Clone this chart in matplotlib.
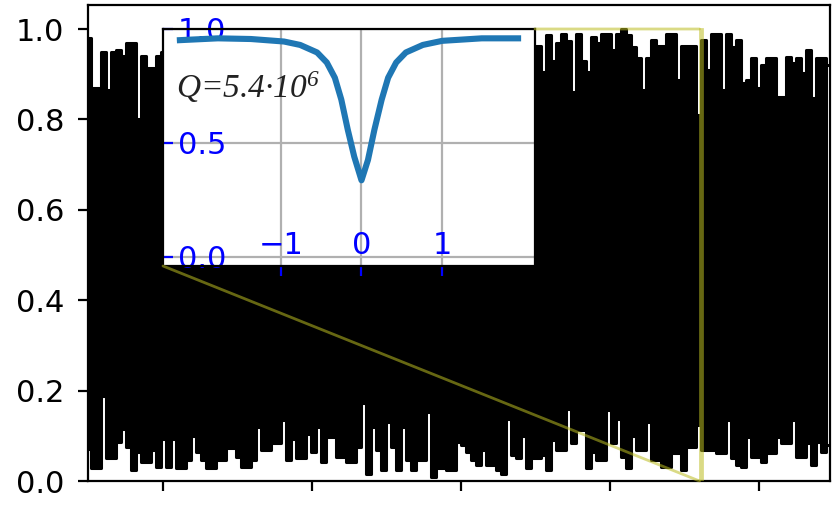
import numpy as np
import matplotlib
matplotlib.use("Agg")
import matplotlib.pyplot as plt
from matplotlib.patches import Rectangle, ConnectionPatch

# ---- data: upper / lower envelope of the dense signal (sampled every ~5 px) ----
upper = [0.98, 0.87, 0.87, 0.95, 0.865, 0.95, 0.954, 0.94, 0.968, 0.968,
         0.80, 0.94, 0.913, 0.913, 0.94,
         0.95, 0.92, 0.97, 0.88, 0.94, 0.96, 0.90, 0.98, 0.93, 0.87,
         0.95, 0.97, 0.91, 0.96, 0.89, 0.94, 0.98, 0.92, 0.95, 0.86,
         0.93, 0.97, 0.95, 0.90, 0.96, 0.93, 0.98, 0.88, 0.94, 0.96,
         0.91, 0.97, 0.95, 0.89, 0.93, 0.98, 0.92, 0.96, 0.87, 0.94,
         0.97, 0.93, 0.95, 0.90, 0.98, 0.94, 0.96, 0.88, 0.93, 0.97,
         0.91, 0.95, 0.98, 0.92, 0.89, 0.96, 0.94, 0.97, 0.90, 0.95,
         0.93, 0.98, 0.91, 0.96, 0.94, 0.88, 0.97, 0.95, 0.92, 0.96,
         0.93, 0.98, 0.90, 0.95,
         0.96, 0.962, 0.905, 0.987, 0.93, 0.968, 0.988, 0.974, 0.86, 0.989,
         0.93, 0.905, 0.983, 0.968, 0.989, 0.989, 0.954, 0.99, 1.0, 0.987,
         0.96, 0.935, 0.865, 0.935, 0.976, 0.962, 0.962, 0.989, 0.989, 0.887,
         0.962, 0.962, 0.962, 0.81, 0.976, 0.909, 0.99, 0.99, 0.865, 0.989,
         0.961, 0.976, 0.88, 0.887, 0.935, 0.87, 0.92, 0.935, 0.935, 0.85,
         0.85, 0.939, 0.924, 0.935, 0.902, 0.954, 0.847, 0.935, 0.935, 0.92]
lower = [0.07, 0.028, 0.028, 0.187, 0.05, 0.05, 0.087, 0.115, 0.076, 0.024,
         0.065, 0.043, 0.043, 0.068, 0.031, 0.094, 0.031, 0.094, 0.028, 0.028,
         0.046, 0.10, 0.065, 0.046, 0.028, 0.028, 0.046, 0.046, 0.072, 0.072,
         0.054, 0.031, 0.031, 0.046, 0.12, 0.068, 0.068, 0.083, 0.083, 0.136,
         0.046, 0.094, 0.05, 0.05, 0.105, 0.065, 0.12, 0.043, 0.098, 0.098,
         0.054, 0.054, 0.043, 0.043, 0.076, 0.172, 0.015, 0.12, 0.068, 0.024,
         0.13, 0.076, 0.024, 0.12, 0.046, 0.024, 0.046, 0.046, 0.152, 0.008,
         0.028, 0.028, 0.024, 0.024, 0.087,
         0.08, 0.065, 0.046, 0.035, 0.068, 0.035, 0.035, 0.024, 0.015, 0.138,
         0.058, 0.05, 0.10, 0.028, 0.05, 0.05, 0.058, 0.024, 0.091, 0.068,
         0.068, 0.16, 0.083, 0.113, 0.113, 0.028, 0.065, 0.046, 0.046, 0.157,
         0.083, 0.138, 0.054, 0.028, 0.10, 0.068, 0.068, 0.13, 0.046, 0.046,
         0.031, 0.031, 0.061, 0.061, 0.024, 0.076, 0.076, 0.125, 0.068, 0.068,
         0.068, 0.061, 0.061, 0.135, 0.05, 0.035, 0.031, 0.098, 0.054, 0.054,
         0.043, 0.061, 0.061, 0.098, 0.083, 0.083, 0.135, 0.054, 0.054, 0.083,
         0.035, 0.087, 0.065, 0.08]

# ---- inset resonance curve ----
detuning = [-2.25, -1.78, -1.37, -0.96, -0.76, -0.55, -0.43, -0.33, -0.25, -0.17,
            -0.09, 0.0, 0.08, 0.16, 0.25, 0.33, 0.43, 0.55, 0.76, 1.0, 1.49, 1.94]
transmission = [0.951, 0.959, 0.956, 0.945, 0.93, 0.897, 0.853, 0.786, 0.69, 0.558,
                0.44, 0.336, 0.425, 0.558, 0.69, 0.786, 0.853, 0.897, 0.93, 0.948,
                0.959, 0.959]
q_label = "Q=5.4\u00b710$^{6}$"

main_yticks = [0.0, 0.2, 0.4, 0.6, 0.8, 1.0]
inset_xticks = [-1, 0, 1]
inset_yticks = [0.0, 0.5, 1.0]

plt.rcParams["mathtext.fontset"] = "custom"
plt.rcParams["mathtext.rm"] = "Liberation Serif:italic"
plt.rcParams["mathtext.it"] = "Liberation Serif:italic"

fig = plt.figure(figsize=(4.16, 2.525), dpi=200)
ax = fig.add_axes([0.1058, 0.0475, 0.8918, 0.9425])

n = len(upper)
x = np.arange(n)
ax.fill_between(x, lower, upper, step="mid", color="black", lw=0)
ax.plot(x, upper, drawstyle="steps-mid", color="black", lw=1.1,
        solid_joinstyle="round")
ax.plot(x, lower, drawstyle="steps-mid", color="black", lw=1.1,
        solid_joinstyle="round")
ax.set_xlim(0, 148.4)
ax.set_ylim(0, 1.053)
ax.set_yticks(main_yticks)
ax.set_xticks([15 + 29.8 * i for i in range(5)])
ax.set_xticklabels([])
ax.tick_params(labelsize=11, pad=5)

# zoom indicator (narrow strip)
rect_x0, rect_x1 = 122.3, 122.7
rc = (0.737, 0.741, 0.133, 0.55)
ax.add_patch(Rectangle((rect_x0, 0), rect_x1 - rect_x0, 1.0, fill=False,
                       edgecolor=rc, lw=1.0, zorder=5))

ax_in = fig.add_axes([0.1959, 0.4733, 0.4471, 0.4693])
ax_in.plot(detuning, transmission, color="#1f77b4", lw=2.2)
ax_in.set_ylim(-0.04, 1.0)
ax_in.set_xticks(inset_xticks)
ax_in.set_yticks(inset_yticks)
ax_in.grid(True)
ax_in.tick_params(colors="blue", labelsize=11)
ax_in.tick_params(axis="y", direction="in", pad=-5.4)
for lbl in ax_in.get_yticklabels():
    lbl.set_horizontalalignment("left")
ax_in.tick_params(axis="x", pad=-16)
ax_in.text(0.035, 0.71, q_label, transform=ax_in.transAxes, fontsize=12,
           family="Liberation Serif", style="italic",
           va="baseline", ha="left", color="#222222")

for xyA, xyB in [((0, 0), (rect_x0, 0)), ((1, 1), (rect_x0, 1.0))]:
    cp = ConnectionPatch(xyA=xyA, coordsA=ax_in.transAxes, xyB=xyB,
                         coordsB=ax.transData, color=rc, lw=1.0, zorder=5)
    fig.add_artist(cp)

fig.savefig("out.png", dpi=200)
